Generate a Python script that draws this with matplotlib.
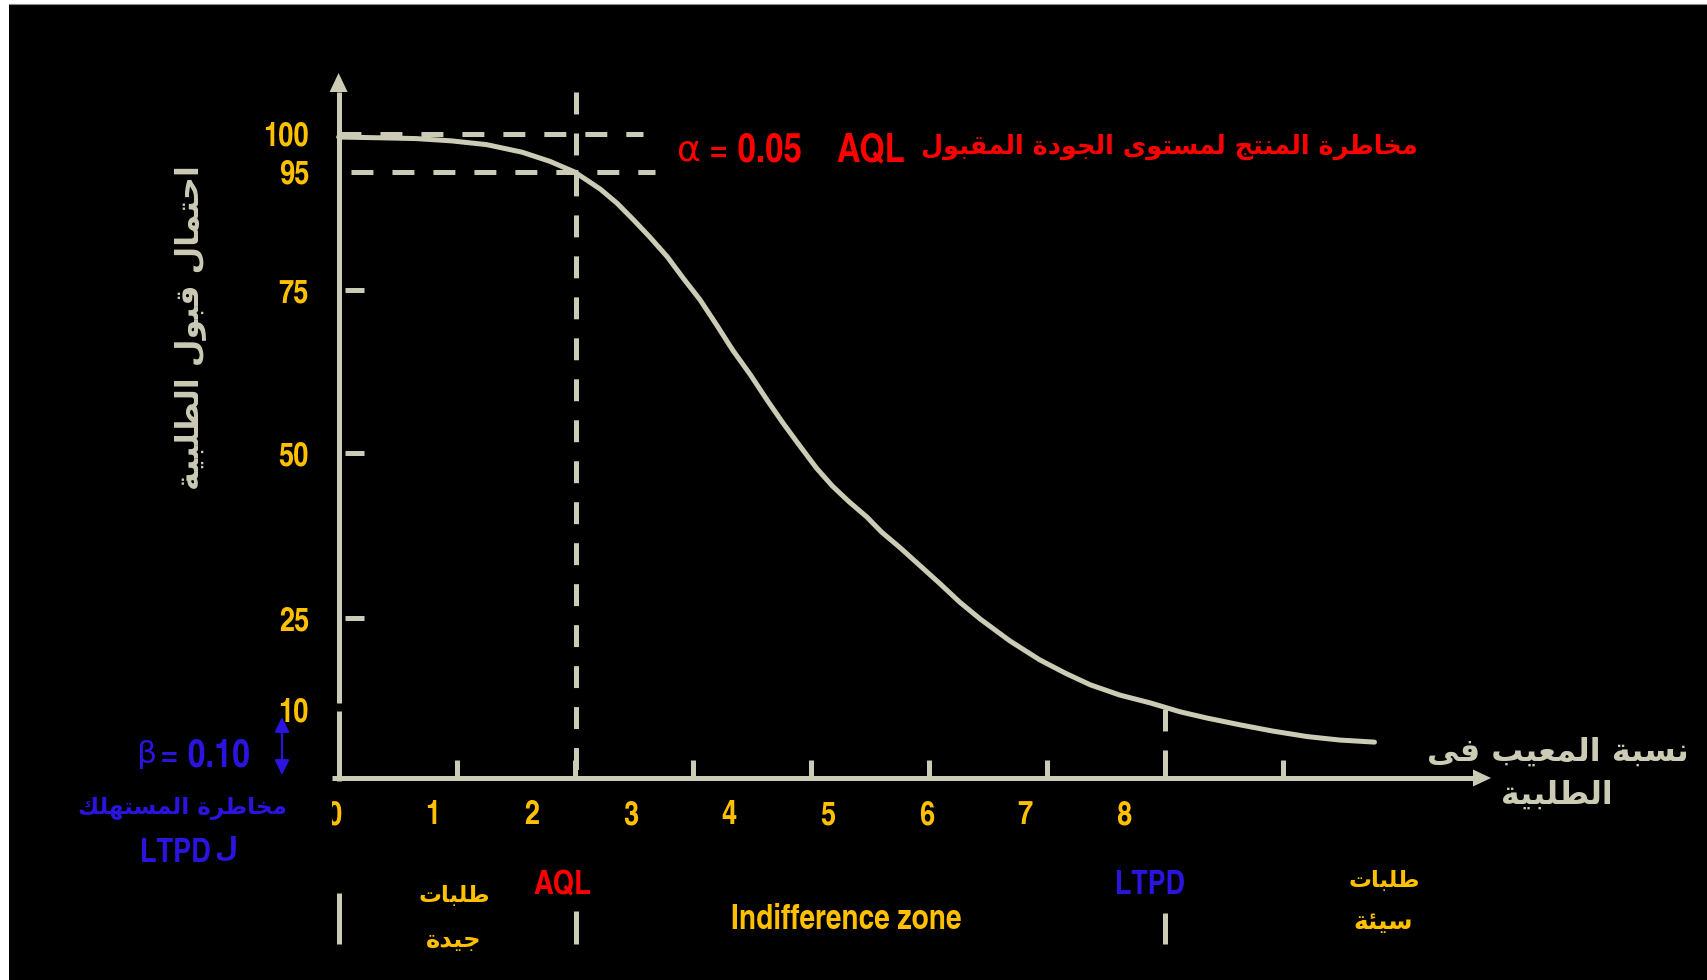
import numpy as np
import matplotlib
matplotlib.use('Agg')
import matplotlib.pyplot as plt
import matplotlib.font_manager as fm
from matplotlib.ft2font import FT2Font
from matplotlib.transforms import Affine2D, blended_transform_factory, Bbox, TransformedBbox
from matplotlib.patches import Polygon

plt.rcParams['lines.scale_dashes'] = False

# ---------------- data ----------------
x_tick_labels = ['0', '1', '2', '3', '4', '5', '6', '7', '8']
y_tick_values = [100, 95, 75, 50, 25, 10]
y_tick_marks = [75, 50, 25]
n_x_tick_marks = 8
AQL = 2.4
LTPD = 8.37
ALPHA = 0.05
BETA = 0.10
P_MAX = 100
curve_x = [0.00, 0.42, 0.78, 1.14, 1.50, 1.86, 2.14, 2.39, 2.65, 2.82, 2.98, 3.15, 3.33,
           3.49, 3.66, 3.83, 3.99, 4.17, 4.34, 4.50, 4.67, 4.84, 5.00, 5.17, 5.35, 5.50,
           5.69, 5.89, 6.09, 6.29, 6.50, 6.80, 7.10, 7.36, 7.61, 7.91, 8.22, 8.52, 8.79,
           9.13, 9.46, 9.81, 10.14, 10.49]
curve_y = [99.6, 99.5, 99.4, 99.1, 98.6, 97.6, 96.4, 95.0, 92.1, 89.7, 87.0, 84.0, 80.6,
           77.0, 73.5, 69.6, 65.8, 62.0, 58.1, 54.6, 51.1, 47.7, 45.0, 42.6, 40.3, 38.0,
           35.6, 32.9, 30.2, 27.4, 24.8, 21.2, 18.1, 15.9, 14.0, 12.3, 11.0, 9.6, 8.7,
           7.7, 6.8, 6.0, 5.5, 5.2]

# ---------------- colours ----------------
BEIGE = '#CCCCB6'
GOLD = '#FFC000'
RED = '#FF0000'
BLUE = '#2B14E0'

# ---------------- Arabic shaping (matplotlib has none) ----------------
AR_FORMS = {
    'ا': ('\uFE8D', '\uFE8E', None, None),
    'ب': ('\uFE8F', '\uFE90', '\uFE91', '\uFE92'),
    'ة': ('\uFE93', '\uFE94', None, None),
    'ت': ('\uFE95', '\uFE96', '\uFE97', '\uFE98'),
    'ج': ('\uFE9D', '\uFE9E', '\uFE9F', '\uFEA0'),
    'ح': ('\uFEA1', '\uFEA2', '\uFEA3', '\uFEA4'),
    'خ': ('\uFEA5', '\uFEA6', '\uFEA7', '\uFEA8'),
    'د': ('\uFEA9', '\uFEAA', None, None),
    'ر': ('\uFEAD', '\uFEAE', None, None),
    'س': ('\uFEB1', '\uFEB2', '\uFEB3', '\uFEB4'),
    'ط': ('\uFEC1', '\uFEC2', '\uFEC3', '\uFEC4'),
    'ع': ('\uFEC9', '\uFECA', '\uFECB', '\uFECC'),
    'ف': ('\uFED1', '\uFED2', '\uFED3', '\uFED4'),
    'ق': ('\uFED5', '\uFED6', '\uFED7', '\uFED8'),
    'ك': ('\uFED9', '\uFEDA', '\uFEDB', '\uFEDC'),
    'ل': ('\uFEDD', '\uFEDE', '\uFEDF', '\uFEE0'),
    'م': ('\uFEE1', '\uFEE2', '\uFEE3', '\uFEE4'),
    'ن': ('\uFEE5', '\uFEE6', '\uFEE7', '\uFEE8'),
    'ه': ('\uFEE9', '\uFEEA', '\uFEEB', '\uFEEC'),
    'و': ('\uFEED', '\uFEEE', None, None),
    'ى': ('\uFEEF', '\uFEF0', None, None),
    'ي': ('\uFEF1', '\uFEF2', '\uFEF3', '\uFEF4'),
    'ئ': ('\uFE89', '\uFE8A', '\uFE8B', '\uFE8C'),
}


def _dual(c):
    return c in AR_FORMS and AR_FORMS[c][2] is not None


def shape_ar(s):
    out, i, n = [], 0, len(s)
    while i < n:
        c = s[i]
        if c not in AR_FORMS:
            out.append(c)
            i += 1
            continue
        prev_j = i > 0 and _dual(s[i - 1])
        if c == 'ل' and i + 1 < n and s[i + 1] == 'ا':
            out.append('\uFEFC' if prev_j else '\uFEFB')
            i += 2
            continue
        next_j = i + 1 < n and s[i + 1] in AR_FORMS
        iso, fin, ini, med = AR_FORMS[c]
        if ini is None:
            out.append(fin if prev_j else iso)
        elif prev_j and next_j:
            out.append(med)
        elif prev_j:
            out.append(fin)
        elif next_j:
            out.append(ini)
        else:
            out.append(iso)
        i += 1
    return ''.join(out)


def ar(s):
    return shape_ar(s)[::-1]


# ---------------- fonts ----------------
def _w(f):
    w = f.weight
    if isinstance(w, str):
        w = fm.weight_dict.get(w, 400)
    return w


def font_path(name, bold=True):
    cands = [f for f in fm.fontManager.ttflist if f.name == name]
    if not cands:
        return None
    return min(cands, key=lambda f: abs(_w(f) - (700 if bold else 400))
               + (1000 if f.style != 'normal' else 0)).fname


def _cmap(path):
    try:
        return set(FT2Font(path).get_charmap().keys())
    except Exception:
        return set()


def _digit_ratio(path):
    try:
        f = FT2Font(path)
        f.set_size(100, 72)
        g = f.load_char(ord('0'))
        return g.linearHoriAdvance / 65536.0 / 100.0
    except Exception:
        return None


# narrow bold sans candidates, closest to an Arial-Narrow-Bold-like face first
_narrow = []
for f in fm.fontManager.ttflist:
    low = f.name.lower()
    w = _w(f)
    if f.style != 'normal' or not (600 <= w <= 700):
        continue
    if any(k in low for k in ('mono', 'serif', 'cjk', 'math', 'black', 'heavy', 'extra')):
        continue
    ratio = _digit_ratio(f.fname)
    if ratio is None or ratio < 0.42:
        continue
    _narrow.append((abs(ratio - 0.456) * 10 + abs(w - 700) / 100.0, f.fname))
_narrow.sort()
NUM_PATHS = [p for _, p in _narrow]
for nm in ('Liberation Sans', 'DejaVu Sans'):
    p = font_path(nm, True)
    if p:
        NUM_PATHS.append(p)


def covering_path(text, paths):
    chars = {ord(c) for c in text if not c.isspace()}
    for p in paths:
        if chars <= _cmap(p):
            return p
    return fm.findfont('DejaVu Sans')


ar_strings = ['احتمال قبول الطلبية', 'مخاطرة المنتج لمستوى الجودة المقبول', 'مخاطرة المستهلك',
              'ل', 'طلبات', 'جيدة', 'سيئة', 'نسبة المعيب فى', 'الطلبية']
AR_PATHS = [p for p in (font_path('DejaVu Sans', True), font_path('DejaVu Sans', False)) if p]
AR_PATH = covering_path(''.join(shape_ar(s) for s in ar_strings), AR_PATHS)
GREEK_PATH = font_path('DejaVu Sans', False) or fm.findfont('DejaVu Sans')


def fp_num(text, size):
    return fm.FontProperties(fname=covering_path(text, NUM_PATHS), size=size)


def fp_ar(size):
    return fm.FontProperties(fname=AR_PATH, size=size)


# ---------------- figure / scales ----------------
W, H = 1707, 980
fig = plt.figure(figsize=(W / 100, H / 100), dpi=100, facecolor='white')
ax = fig.add_axes([9 / W, 0, (W - 9) / W, (H - 4) / H])
ax.set_facecolor('black')
ax.set_autoscale_on(False)
for side, sp in ax.spines.items():
    sp.set_visible(side == 'top')
ax.spines['top'].set_color('#8a8a8a')
ax.spines['top'].set_linewidth(0.8)
ax.xaxis.set_visible(False)
ax.yaxis.set_visible(False)

X0, XS, Y0 = 338.6, 98.75, 778.0
SCALE_VALS = [-50, 0, 10, 25, 50, 75, 95, 100, 150]
SCALE_H = [-325, 0, 69, 160, 325, 488, 606, 644, 969]


def fwd(v):
    return np.interp(v, SCALE_VALS, SCALE_H)


def inv(h):
    return np.interp(h, SCALE_H, SCALE_VALS)


ax.set_yscale('function', functions=(fwd, inv))
ax.set_xlim((9 - X0) / XS, (W - X0) / XS)
ax.set_ylim(float(inv(Y0 - H)), float(inv(Y0 - 4)))


def xpx(x):
    return X0 + x * XS


def ypx(v):
    return Y0 - float(fwd(v))


def xdat(px):
    return (px - X0) / XS


def ydat(px):
    return float(inv(Y0 - px))


P = Affine2D().scale(1 / W, -1 / H).translate(0, 1) + fig.transFigure
BX = blended_transform_factory(ax.transData, P)
BY = blended_transform_factory(P, ax.transData)

LW = 3.6
DASH = (0, (15.8, 13.7))
solid = dict(color=BEIGE, lw=LW, solid_capstyle='butt')

# ---------------- axes arrows ----------------
ax.plot([X0, X0], [Y0 + 2.5, 711], transform=P, **solid)
ax.plot([X0, X0], [703, 92], transform=P, **solid)
ax.add_patch(Polygon([[X0 - 9, 92], [X0, 73], [X0 + 9, 92]], closed=True,
                     transform=P, fc=BEIGE, ec='none'))
ax.plot([332, 1474], [Y0, Y0], transform=P, **solid)
ax.add_patch(Polygon([[1473, Y0 - 8.5], [1491, Y0], [1473, Y0 + 8.5]], closed=True,
                     transform=P, fc=BEIGE, ec='none'))

# tick marks
tick_step = 118 / XS
for k in range(1, n_x_tick_marks + 1):
    ax.plot([k * tick_step] * 2, [760, Y0], transform=BX, **solid)
for v in y_tick_marks:
    ax.plot([345, 364], [v, v], transform=BY, **solid)

r = fig.canvas.get_renderer()


def fit(t, target, use_height=False):
    bb = t.get_window_extent(r)
    cur = bb.height if use_height else bb.width
    t.set_fontsize(t.get_fontsize() * target / cur)
    return t.get_fontsize()


# number size: "100" is about 46 px wide in the reference
_probe = ax.text(0, 0, '100', transform=P, fontproperties=fp_num('100', 23))
NUM_SIZE = min(fit(_probe, 46), 24)
_probe.remove()

# tick labels
for v in y_tick_values:
    ax.text(309, ypx(v) + NUM_SIZE / 2, str(v), transform=P, ha='right', va='baseline',
            color=GOLD, fontproperties=fp_num(str(v), NUM_SIZE))
for i, lab in enumerate(x_tick_labels):
    t = ax.text(xpx(i) - 4.6, 812 + NUM_SIZE / 2, lab, transform=P, ha='center',
                va='baseline', color=GOLD, fontproperties=fp_num(lab, NUM_SIZE))
    if i == 0:
        t.set_clip_box(TransformedBbox(Bbox.from_extents(332 / W, 0, 1, 1), fig.transFigure))
        t.set_clip_on(True)

# ---------------- reference lines ----------------
ax.plot([0, xdat(642.5)], [P_MAX, P_MAX], color=BEIGE, lw=LW, ls=DASH)
ax.plot([xdat(351), xdat(655)], [P_MAX * (1 - ALPHA)] * 2, color=BEIGE, lw=LW, ls=DASH)
ax.plot([AQL, AQL], [ydat(92), 0], color=BEIGE, lw=LW, ls=DASH)
ax.plot([LTPD, LTPD], [P_MAX * BETA, 0], color=BEIGE, lw=LW, ls=DASH)
for x, top in zip([0, AQL, LTPD], [893, 911, 913]):
    ax.plot([x, x], [top, 944], transform=BX, **solid)

# ---------------- OC curve ----------------
ax.plot(curve_x, curve_y, color=BEIGE, lw=LW, solid_joinstyle='round',
        solid_capstyle='round', zorder=4)

# beta arrow
ax.annotate('', xy=(282, ypx(0) - 3), xytext=(282, ypx(P_MAX * BETA) + 8),
            xycoords=P, textcoords=P,
            arrowprops=dict(arrowstyle='<|-|>,head_length=0.45,head_width=0.22',
                            mutation_scale=20, lw=1.5, color=BLUE,
                            shrinkA=0, shrinkB=0))


# ---------------- texts ----------------
def atext(s, x, y, color, width, ha='center', rot=0, use_height=False, size=None):
    t = ax.text(x, y, ar(s), transform=P, ha=ha, va='center', rotation=rot,
                color=color, fontproperties=fp_ar(24))
    if size is None:
        fit(t, width, use_height)
    else:
        t.set_fontsize(size)
    return t


atext('احتمال قبول الطلبية', 190, 328, BEIGE, 325, rot=90, use_height=True)
atext('مخاطرة المنتج لمستوى الجودة المقبول', 1418, 147, RED, 500, ha='right')
tb = atext('مخاطرة المستهلك', 182, 807, BLUE, 210)
atext('ل', 237, 850, BLUE, None, ha='right', size=tb.get_fontsize() * 1.15)
atext('طلبات', 454, 895, GOLD, 72)
atext('جيدة', 454, 940, GOLD, 56)
atext('طلبات', 1384, 880, GOLD, 72)
atext('سيئة', 1383, 922, GOLD, 60)
atext('نسبة المعيب فى', 1558, 752, BEIGE, 262)
atext('الطلبية', 1557, 795, BEIGE, 112)


def ltext(s, x, yc, color, width, ha='center', max_size=30, fp=None):
    t = ax.text(x, yc, s, transform=P, ha=ha, va='baseline', color=color,
                fontproperties=fp if fp is not None else fp_num(s, 24))
    fs = fit(t, width)
    if fs > max_size:
        t.set_fontsize(max_size)
        fs = max_size
    t.set_position((x, yc + fs / 2))
    return t


greek = fm.FontProperties(fname=GREEK_PATH, size=24)
ltext('α', 677, 147, RED, 24, ha='left', max_size=34, fp=greek)
ltext('= 0.05', 709, 147, RED, 93, ha='left')
ltext('AQL', 836, 147, RED, 69, ha='left')
ltext('β', 137, 752, BLUE, 20, ha='left', max_size=34, fp=greek.copy())
ltext('= 0.10', 250, 752, BLUE, 90, ha='right')
ltext('LTPD', 140, 850, BLUE, 71, ha='left', max_size=26)
ltext('AQL', 562, 882, RED, 58, max_size=26)
ltext('Indifference zone', 846, 917, GOLD, 230, max_size=26)
ltext('LTPD', 1150, 882, BLUE, 70, max_size=26)

fig.savefig('out.png', dpi=100, facecolor='white')
